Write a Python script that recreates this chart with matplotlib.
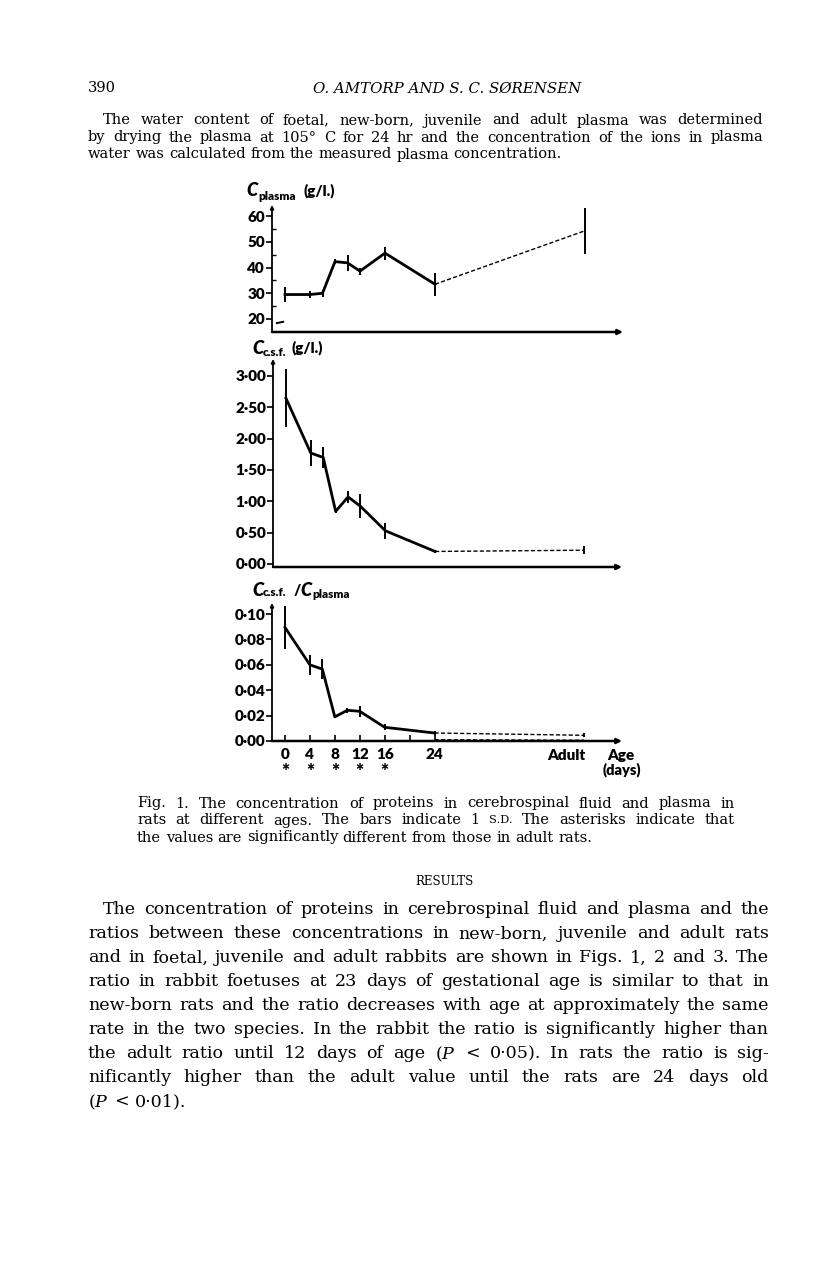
import matplotlib
matplotlib.use('Agg')
import matplotlib.pyplot as plt
import numpy as np

plt.rcParams['mathtext.fontset'] = 'dejavuserif'

# ---- data ----
ages = [0, 4, 6, 8, 10, 12, 16, 24]
plasma = [29.5, 29.5, 30.0, 42.3, 41.8, 38.6, 45.6, 33.5]
plasma_sd = [3.0, 1.5, 1.3, 1.0, 3.2, 1.4, 2.5, 4.5]
plasma_adult, plasma_adult_sd = 54.3, 9.0

csf = [2.645, 1.77, 1.70, 0.84, 1.07, 0.92, 0.53, 0.20]
csf_sd = [0.46, 0.20, 0.17, 0.03, 0.09, 0.19, 0.13, 0.03]
csf_adult, csf_adult_sd = 0.22, 0.06

ratio = [0.0895, 0.060, 0.0566, 0.019, 0.0242, 0.0234, 0.0108, 0.0063]
ratio_sd = [0.017, 0.008, 0.008, 0.001, 0.002, 0.0043, 0.0025, 0.0015]
ratio_adult, ratio_adult_sd = 0.0045, 0.0015
ratio_low = [0.0010, 0.0006]   # lower dashed line, 24 d -> adult

age_labels = ['0', '4', '8', '12', '16', '24']
signif_ages = [0, 4, 8, 12, 16]

plasma_ticks = [20, 30, 40, 50, 60]
csf_ticks = [0.0, 0.5, 1.0, 1.5, 2.0, 2.5, 3.0]
ratio_ticks = [0.0, 0.02, 0.04, 0.06, 0.08, 0.10]

para1 = ["The water content of foetal, new-born, juvenile and adult plasma was determined",
         "by drying the plasma at 105° C for 24 hr and the concentration of the ions in plasma",
         "water was calculated from the measured plasma concentration."]
caption = ["Fig. 1. The concentration of proteins in cerebrospinal fluid and plasma in",
           "rats at different ages. The bars indicate 1 S.D. The asterisks indicate that",
           "the values are significantly different from those in adult rats."]
results = ["The concentration of proteins in cerebrospinal fluid and plasma and the",
           "ratios between these concentrations in new-born, juvenile and adult rats",
           "and in foetal, juvenile and adult rabbits are shown in Figs. 1, 2 and 3. The",
           "ratio in rabbit foetuses at 23 days of gestational age is similar to that in",
           "new-born rats and the ratio decreases with age at approximately the same",
           "rate in the two species. In the rabbit the ratio is significantly higher than",
           r"the adult ratio until 12 days of age ($P$ < 0·05). In rats the ratio is sig-",
           "nificantly higher than the adult value until the rats are 24 days old",
           r"($P$ < 0·01)."]

ADULT_X = 48
W, H = 816, 1281
SERIF = 'DejaVu Serif'
SANS = ['Lato', 'DejaVu Sans']

fig = plt.figure(figsize=(W / 100, H / 100), dpi=100)
page = fig.add_axes([0, 0, 1, 1], zorder=5)
page.set_xlim(0, W)
page.set_ylim(H, 0)
page.axis('off')
page.patch.set_alpha(0)
rend = fig.canvas.get_renderer()


def width_of(s, size, **kw):
    t = page.text(0, 0, s, fontsize=size, **kw)
    w = t.get_window_extent(rend).width
    t.remove()
    return w


def put_line(line, x0, x1, y, size, justify=True, **kw):
    words = line.split(' ')
    space = width_of('a a', size, **kw) - width_of('aa', size, **kw)
    # shrink the line if the words don't fit with a minimum gap
    nat = sum(width_of(w, size, **kw) for w in words) + 0.55 * space * (len(words) - 1)
    if justify and nat > x1 - x0:
        size = size * (x1 - x0) / nat
        space = space * (x1 - x0) / nat
    texts, widths = [], []
    for w in words:
        s = size * 0.78 if w.startswith('S.D.') else size
        t = page.text(0, y, w, fontsize=s, va='center_baseline', ha='left', **kw)
        texts.append(t)
        widths.append(t.get_window_extent(rend).width)
    if justify and len(words) > 1:
        gap = (x1 - x0 - sum(widths)) / (len(words) - 1)
    else:
        gap = space
    x = x0
    for t, w in zip(texts, widths):
        t.set_x(x)
        x += w + gap


def put_block(lines, left, right, indent, y0, dy, size, **kw):
    x0s = [left + indent] + [left] * (len(lines) - 1)
    for i, l in enumerate(lines):
        put_line(l, x0s[i], right, y0 + i * dy, size,
                 justify=(i < len(lines) - 1), family=SERIF, **kw)


# ---- page text ----
put_block(para1, 88, 763, 15, 119, 17, 10.5)
page.text(88, 87, '390', fontsize=10.5, family=SERIF, va='center_baseline')
page.text(447, 87, 'O. AMTORP AND S. C. SØRENSEN', fontsize=10.8, family=SERIF,
          style='italic', ha='center', va='center_baseline')
put_block(caption, 137, 735, 0, 802, 17, 10.5)
page.text(444, 880, 'RESULTS', fontsize=8.5, family=SERIF, ha='center',
          va='center_baseline')
put_block(results, 88, 769, 15, 908, 24, 12.6)


# ---- chart panels ----
def px_axes(x0, y0, x1, y1):
    return fig.add_axes([x0 / W, 1 - y1 / H, (x1 - x0) / W, (y1 - y0) / H])


def panel(box, ylim, vals, sd, adult, adult_sd, ticks, fmt):
    ax = px_axes(*box)
    ax.set_xlim(-2.08, 54.08)
    ax.set_ylim(*ylim)
    for s in ['top', 'right', 'left', 'bottom']:
        ax.spines[s].set_visible(False)
    ax.annotate('', xy=(1, 0), xytext=(0, 0), xycoords='axes fraction',
                arrowprops=dict(arrowstyle='-|>', lw=1.8, color='k', mutation_scale=7,
                                shrinkA=0, shrinkB=0))
    ax.annotate('', xy=(0, 1), xytext=(0, 0), xycoords='axes fraction',
                arrowprops=dict(arrowstyle='-|>', lw=1.3, color='k', mutation_scale=5,
                                shrinkA=0, shrinkB=0))
    ax.errorbar(ages, vals, yerr=sd, fmt='-', color='k', lw=2.0, elinewidth=1.4,
                capsize=0, clip_on=False)
    ax.plot([ages[-1], ADULT_X], [vals[-1], adult], color='k', lw=1.0,
            ls=(0, (3, 1.6)), clip_on=False)
    ax.errorbar([ADULT_X], [adult], yerr=[adult_sd], fmt='none', ecolor='k',
                elinewidth=1.4, capsize=0, clip_on=False)
    ax.set_yticks(ticks)
    ax.set_yticklabels([fmt(t) for t in ticks], fontweight='heavy', family=SANS)
    ax.tick_params(axis='y', direction='out', length=4, width=1.2, labelsize=11, pad=1)
    ax.set_xticks([])
    return ax


ax1 = panel((272, 205, 623, 332), (14.94, 64.3), plasma, plasma_sd,
            plasma_adult, plasma_adult_sd, plasma_ticks, lambda t: '%d' % t)
ax1.set_yticks([25, 35, 45, 55], minor=True)
ax1.tick_params(axis='y', which='minor', direction='in', length=3, width=1.0)
ax1.plot([-1.3, -0.3], [18.4, 18.9], color='k', lw=1.4, clip_on=False)

ax2 = panel((273, 359, 622, 567), (-0.048, 3.27), csf, csf_sd,
            csf_adult, csf_adult_sd, csf_ticks, lambda t: ('%.2f' % t).replace('.', '·'))

ax3 = panel((272, 603, 622, 741), (0.0, 0.1087), ratio, ratio_sd,
            ratio_adult, ratio_adult_sd, ratio_ticks,
            lambda t: ('%.2f' % t).replace('.', '·'))
ax3.plot([ages[-1], ADULT_X], ratio_low, color='k', lw=1.0, ls=(0, (3, 1.6)),
         clip_on=False)
ax3.set_xticks([0, 4, 8, 12, 16, 24])
ax3.set_xticklabels(age_labels, fontweight='heavy', family=SANS)
ax3.set_xticks([20], minor=True)
ax3.tick_params(axis='x', which='both', direction='in', length=4, width=1.2,
                labelsize=11, pad=5)
for a in signif_ages:
    ax3.annotate('*', (a, 0), xytext=(0, -31), textcoords='offset pixels',
                 ha='center', va='center', fontsize=14, fontweight='heavy', family=SANS)
ax3.annotate('Adult', (ADULT_X, 0), xytext=(-18, -14), textcoords='offset pixels',
             ha='center', va='center', fontsize=11, fontweight='heavy', family=SANS)
page.text(621, 755, 'Age', fontsize=11, fontweight='heavy', family=SANS,
          ha='center', va='center')
page.text(622, 770, '(days)', fontsize=10.5, fontweight='heavy', family=SANS,
          ha='center', va='center')

# axis titles
lab = dict(fontweight='heavy', family=SANS, va='center')
page.text(246, 190, 'C', fontsize=13, style='italic', **lab)
page.text(258, 196, 'plasma', fontsize=8.5, **lab)
page.text(304, 191, '(g/l.)', fontsize=11, **lab)

page.text(252, 349, 'C', fontsize=13, style='italic', **lab)
page.text(263, 352, 'c.s.f.', fontsize=8.5, **lab)
page.text(292, 348, '(g/l.)', fontsize=11, **lab)

page.text(252, 590, 'C', fontsize=13, style='italic', **lab)
page.text(263, 593, 'c.s.f.', fontsize=8.5, **lab)
page.text(294, 590, '/', fontsize=11, **lab)
page.text(300, 590, 'C', fontsize=13, style='italic', **lab)
page.text(312, 594, 'plasma', fontsize=8.5, **lab)

fig.savefig('out.png', dpi=100, facecolor='white')
